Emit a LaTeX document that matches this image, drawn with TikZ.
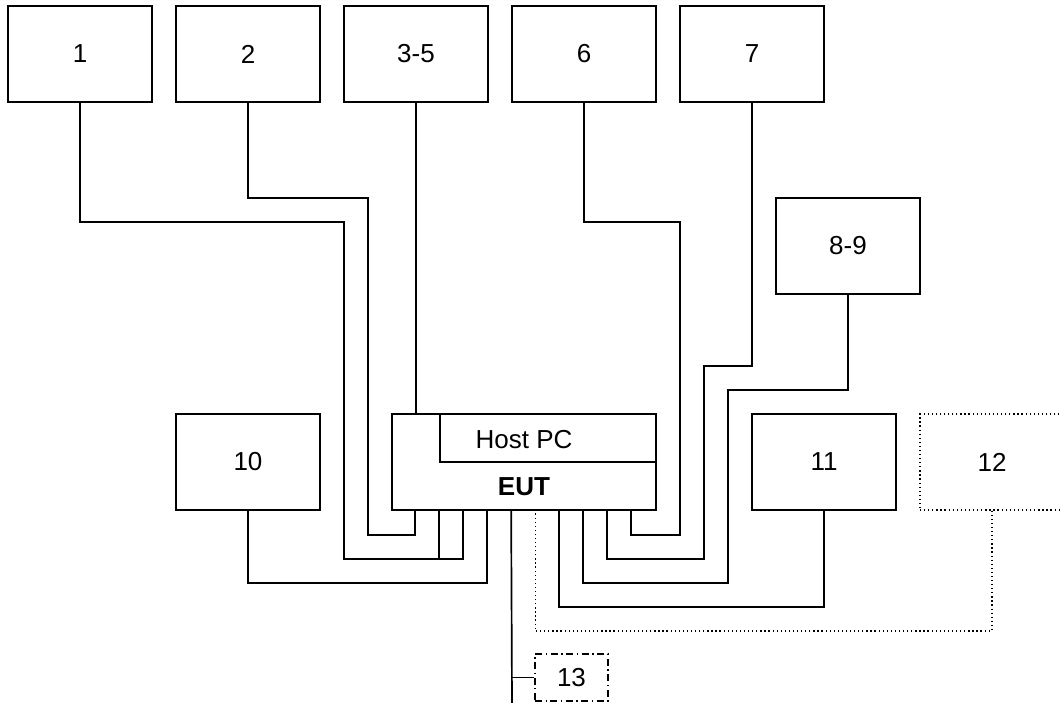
\documentclass[tikz,border=0pt]{standalone}
\usepackage{fontspec}
\setmainfont{Liberation Sans}
\usetikzlibrary{positioning}

\tikzset{
  unit/.style={draw,minimum width=3.6cm,minimum height=2.4cm,inner sep=0pt},
  optline/.style={dotted,line width=0.9pt},
  auxline/.style={dash pattern=on 5pt off 2.5pt on 1pt off 2.5pt,line width=0.9pt}
}

\begin{document}
\begin{tikzpicture}[x=0.025cm,y=-0.025cm,line width=1.2pt,
  every node/.style={font=\fontsize{18.5}{22}\selectfont}]
\clip (0,0) rectangle (1061,703);
\node[unit] (d1) at (80,54) {1};
\node[unit] (d2) at (248,54) {2};
\node[unit] (d35) at (416,54) {3-5};
\node[unit] (d6) at (584,54) {6};
\node[unit] (d7) at (752,54) {7};
\node[unit] (d89) at (848,246) {8-9};
\node[unit] (d10) at (248,462) {10};
\node[unit] (d11) at (824,462) {11};
\node[unit,optline] (d12) at (992,462) {12};
\node[unit,minimum width=6.6cm] (eut) at (524,462) {};
\node[draw,minimum width=5.4cm,minimum height=1.2cm,anchor=north east] (host) at (eut.north east) {};
\node (hostlbl) at (524,440) {Host PC};
\node[font=\fontsize{18.5}{22}\selectfont\bfseries] (eutlbl) at (524,487) {EUT};
\node[unit,auxline,minimum width=1.825cm,minimum height=1.175cm] (d13) at (571.5,677.5) {13};

% ports on the EUT bottom
\coordinate (p1) at ([xshift=0.6cm]eut.south west);
\coordinate (p2) at ([xshift=1.2cm]eut.south west);
\coordinate (p3) at ([xshift=1.8cm]eut.south west);
\coordinate (p4) at ([xshift=2.4cm]eut.south west);
\coordinate (p5) at ([xshift=3.0cm]eut.south west);
\coordinate (p6) at ([xshift=3.6cm]eut.south west);
\coordinate (p7) at ([xshift=4.2cm]eut.south west);
\coordinate (p8) at ([xshift=4.8cm]eut.south west);
\coordinate (p9) at ([xshift=5.4cm]eut.south west);
\coordinate (p10) at ([xshift=6.0cm]eut.south west);
\coordinate (cut) at (512,703);

\draw (d1.south) |- (344,222) |- ([yshift=-1.2cm]p3) -- (p3);
\draw (p2) -- ([yshift=-1.2cm]p2);
\draw (d2.south) |- (368,198) |- ([yshift=-0.6cm]p1) -- (p1);
\draw (d35.south) -- (d35.south |- eut.north);
\draw (d6.south) |- (680,222) |- ([yshift=-0.6cm]p10) -- (p10);
\draw (d7.south) |- (704,366) |- ([yshift=-1.2cm]p9) -- (p9);
\draw (d89.south) |- (728,390) |- ([yshift=-1.8cm]p8) -- (p8);
\draw (d10.south) |- ([yshift=-1.8cm]p4) -- (p4);
\draw (d11.south) |- ([yshift=-2.4cm]p7) -- (p7);
\draw[optline] (d12.south) |- ([yshift=-3cm]p6) -- (p6);
\draw (p5) -- (cut);
\draw (d13.west -| p5) -- (d13.west);

\end{tikzpicture}
\end{document}
